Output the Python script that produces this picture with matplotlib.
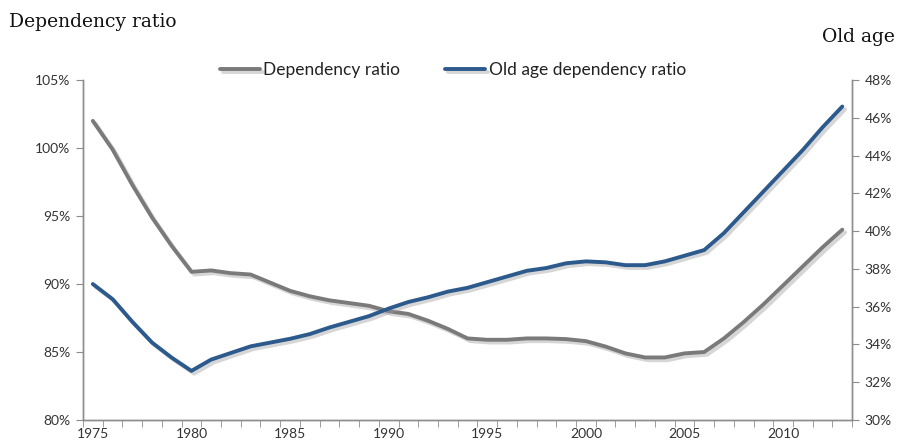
import matplotlib.pyplot as plt
import matplotlib.patheffects as pe
from matplotlib.ticker import FuncFormatter, MultipleLocator

years = list(range(1975, 2014))

# Dependency ratio (left axis, %)
dependency = [102.0, 99.9, 97.3, 94.9, 92.8, 90.9, 91.0, 90.8, 90.7, 90.1,
              89.5, 89.1, 88.8, 88.6, 88.4, 88.0, 87.8, 87.3, 86.7, 86.0,
              85.9, 85.9, 86.0, 86.0, 85.95, 85.8, 85.4, 84.9, 84.6, 84.6,
              84.9, 85.0, 86.0, 87.2, 88.5, 89.9, 91.3, 92.7, 94.0]

# Old age dependency ratio (right axis, %)
old_age = [37.2, 36.4, 35.2, 34.1, 33.3, 32.6, 33.2, 33.55, 33.9, 34.1,
           34.3, 34.55, 34.9, 35.2, 35.5, 35.9, 36.25, 36.5, 36.8, 37.0,
           37.3, 37.6, 37.9, 38.05, 38.3, 38.4, 38.35, 38.2, 38.2, 38.4,
           38.7, 39.0, 39.9, 41.0, 42.1, 43.2, 44.3, 45.5, 46.6]

gray = "#7a7a7a"
blue = "#2d5a8c"
axis_col = "#8c8c8c"
txt_col = "#333333"

plt.rcParams["font.family"] = ["Lato", "DejaVu Sans"]

fig = plt.figure(figsize=(8.97, 4.45), dpi=100)
ax = fig.add_axes([0.0925, 0.0562, 0.8575, 0.7638])
ax2 = ax.twinx()

shadow = [pe.SimpleLineShadow(offset=(2, -2), shadow_color="#9a9a9a", alpha=0.4), pe.Normal()]

l1, = ax.plot(years, dependency, color=gray, lw=2.8, solid_capstyle="round",
              path_effects=shadow, label="Dependency ratio")
l2, = ax2.plot(years, old_age, color=blue, lw=2.8, solid_capstyle="round",
               path_effects=shadow, label="Old age dependency ratio")

ax.set_xlim(1974.5, 2013.5)
ax.set_ylim(80, 105)
ax2.set_ylim(30, 48)

ax.set_xticks(range(1975, 2014, 5))
ax.set_xticks([y + 0.5 for y in range(1974, 2014)], minor=True)
ax.tick_params(axis="x", which="major", length=0, pad=6, labelsize=10, colors=txt_col)
ax.tick_params(axis="x", which="minor", length=5, direction="out", color=axis_col)

ax.yaxis.set_major_locator(MultipleLocator(5))
ax.yaxis.set_major_formatter(FuncFormatter(lambda v, p: f"{v:.0f}%"))
ax2.yaxis.set_major_locator(MultipleLocator(2))
ax2.yaxis.set_major_formatter(FuncFormatter(lambda v, p: f"{v:.0f}%"))
ax.tick_params(axis="y", length=5, color=axis_col, labelsize=10, labelcolor=txt_col, pad=4)
ax2.tick_params(axis="y", length=5, color=axis_col, labelsize=10, labelcolor=txt_col, pad=4)

for a in (ax, ax2):
    a.spines["top"].set_visible(False)
    for s in ("left", "right", "bottom"):
        a.spines[s].set_color(axis_col)
        a.spines[s].set_linewidth(1.0)

fig.legend(handles=[l1, l2], loc="center", bbox_to_anchor=(0.505, 0.843), ncol=2,
           frameon=False, fontsize=12.5, handlelength=2.3, handletextpad=0.2,
           columnspacing=2.6, labelcolor="#222222")

fig.text(0.01, 0.95, "Dependency ratio", family="DejaVu Serif", fontsize=13.5,
         ha="left", va="center", color="#111111")
fig.text(0.998, 0.917, "Old age", family="DejaVu Serif", fontsize=13.5,
         ha="right", va="center", color="#111111")

fig.savefig("out.png", dpi=100)
